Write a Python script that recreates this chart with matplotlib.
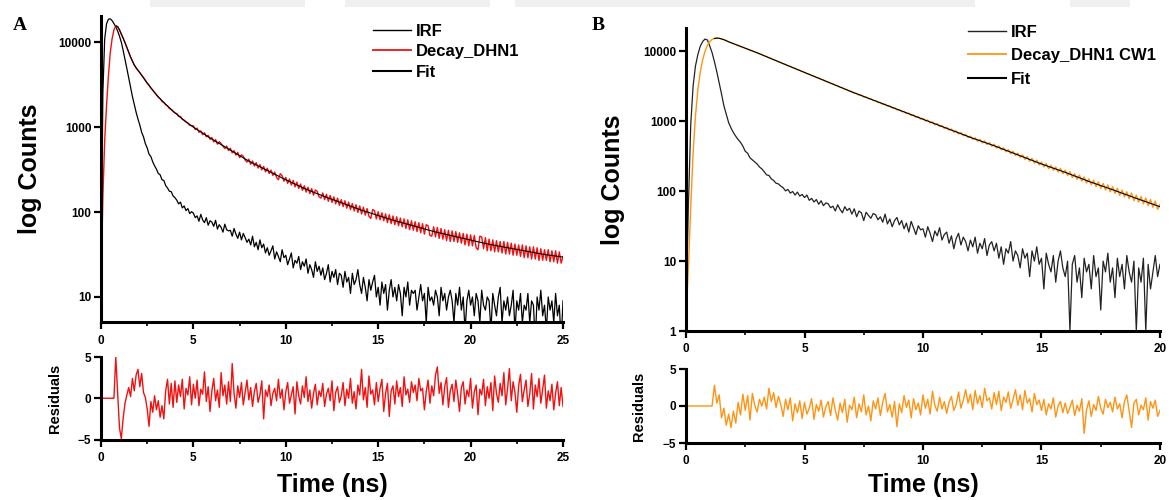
import numpy as np
import matplotlib
matplotlib.use("Agg")
import matplotlib.pyplot as plt
from matplotlib.patches import Rectangle
from matplotlib.ticker import FixedLocator, NullLocator, FixedFormatter

plt.rcParams["font.family"] = ["Liberation Sans", "DejaVu Sans"]
plt.rcParams["font.weight"] = "bold"

# ---------------- Panel A : DHN1 (0.1 ns channels, 0-25 ns) ----------------
CH_A = 0.1
irf_a = [
    15, 2500, 11000, 16500, 18700, 18900, 18000, 16600, 15200, 13600,
    11800, 10000, 8000, 6300, 4900, 3800, 2950, 2300, 1850, 1500,
    1250, 1060, 870, 770, 640, 570, 480, 450, 390, 350,
    320, 285, 275, 240, 236, 205, 192, 176, 174, 155,
    148, 138, 125, 131, 112, 118, 104, 110, 96, 101,
    97, 86, 90, 78, 94, 81, 75, 86, 70, 79,
    76, 68, 80, 63, 71, 66, 58, 72, 62, 60,
    61, 52, 64, 55, 49, 58, 47, 56, 50, 44,
    48, 41, 52, 39, 44, 36, 47, 38, 42, 33,
    38, 31, 35, 40, 28, 34, 30, 26, 36, 29,
    31, 24, 28, 33, 22, 27, 25, 30, 21, 26,
    23, 28, 19, 24, 21, 17, 26, 20, 23, 18,
    22, 16, 19, 24, 15, 20, 17, 21, 14, 19,
    18, 13, 20, 15, 17, 11, 19, 14, 16, 21,
    14, 11, 17, 13, 9, 16, 12, 15, 18, 10,
    13, 8, 15, 11, 14, 7, 12, 16, 10, 13,
    9, 14, 11, 6, 13, 10, 15, 8, 12, 11,
    12, 7, 10, 14, 9, 11, 5, 13, 9, 10,
    8, 12, 10, 6, 13, 9, 11, 7, 10, 12,
    9, 5, 11, 8, 13, 7, 10, 4, 9, 12,
    8, 10, 6, 11, 9, 5, 12, 8, 7, 10,
    9, 4, 11, 8, 6, 10, 13, 5, 9, 7,
    10, 6, 8, 12, 4, 9, 7, 11, 5, 8,
    7, 11, 5, 9, 8, 3, 10, 7, 12, 6,
    8, 4, 10, 7, 9, 5, 11, 6, 8, 3,
    9,
]
decay_a = [
    12, 150, 700, 1800, 4000, 7500, 11000, 14000, 15600, 15300,
    14000, 12500, 11200, 9900, 8700, 7600, 6700, 6000, 5400, 4950,
    4650, 4400, 4100, 3850, 3560, 3310, 3120, 2890, 2720, 2550,
    2420, 2250, 2160, 2010, 1950, 1840, 1780, 1660, 1610, 1530,
    1470, 1445, 1340, 1335, 1238, 1210, 1150, 1118, 1052, 1041,
    1040, 935, 975, 870, 905, 815, 860, 770, 800, 720,
    755, 670, 715, 630, 675, 640, 595, 560, 600, 530,
    565, 498, 530, 468, 505, 438, 472, 455, 410, 388,
    420, 365, 400, 348, 382, 330, 362, 314, 345, 298,
    328, 285, 312, 270, 296, 256, 240, 283, 268, 231,
    256, 218, 245, 208, 236, 198, 225, 190, 214, 180,
    204, 172, 196, 165, 189, 158, 182, 176, 151, 146,
    168, 140, 162, 134, 157, 130, 151, 125, 146, 120,
    140, 116, 136, 111, 131, 107, 126, 103, 122, 99,
    118, 95, 114, 92, 110, 89, 84, 107, 104, 83,
    101, 81, 98, 79, 95, 75, 93, 73, 90, 71,
    88, 69, 85, 67, 83, 64, 81, 62, 79, 61,
    77, 59, 75, 57, 73, 55, 71, 69, 53, 52,
    67, 51, 66, 49, 64, 48, 62, 46, 61, 45,
    60, 45, 59, 44, 57, 43, 56, 41, 55, 40,
    54, 40, 53, 38, 36, 52, 51, 37, 50, 35,
    48, 35, 47, 34, 46, 34, 45, 33, 45, 32,
    44, 32, 43, 31, 42, 31, 41, 30, 41, 29,
    40, 29, 39, 28, 39, 28, 38, 27, 37, 27,
    36, 27, 36, 26, 35, 26, 35, 25, 34, 25,
    30,
]
fit_a_t = [0.8, 0.9, 1.0, 1.1, 1.2, 1.4, 1.6, 1.8, 2.0, 2.5, 3.0, 3.5, 4.0,
           4.5, 5, 6, 7, 8, 9, 10, 11, 12, 13, 14, 15, 16, 17, 18, 19, 20,
           21, 22, 23, 24, 25]
fit_a = [15600, 15300, 14000, 12500, 11200, 8700, 6700, 5400, 4700, 3300,
         2400, 1860, 1480, 1200, 1000, 724, 537, 398, 309, 240, 190, 155,
         129, 107, 91, 78, 68, 59, 52.5, 46.8, 41.7, 38, 34.7, 31.6, 29.5]
resid_a = [
    0, 0, 0, 0, 0, 0, 0, 0, 5.0, 0.8,
    -3.6, -4.9, -2.4, -0.6, 0.4, 1.3, 0.2, 2.4, 0.9, 2.8,
    3.5, 1.4, 3.0, 0.7, 0.1, -1.3, -3.4, -0.4, -1.7, 0.3,
    -1.4, -0.3, -2.3, -0.9, -2.5, 0.9, 2.3, -0.7, 1.8, -1.1,
    2.1, -0.5, 1.6, 0.2, 2.3, -1.3, 1.2, 0.4, 2.6, -0.8,
    1.7, 0.0, 2.2, -0.9, 1.1, 0.5, 3.2, -0.4, 1.4, -1.6,
    0.9, 2.4, -0.3, 1.0, -1.1, 3.1, 0.3, 1.6, -0.7, 2.0,
    -0.4, 4.2, 0.6, -1.2, 1.5, 0.1, 1.9, -0.8, 0.7, 2.2,
    -0.2, 1.3, -1.0, 0.8, 1.8, -0.5, 0.4, 2.1, -2.5, 1.0,
    0.2, 1.6, -0.9, 0.6, 1.2, -0.3, 2.3, 0.0, 1.1, -1.4,
    0.8, 1.9, -0.6, 0.4, 1.4, -1.9, 2.0, 0.3, -0.7, 1.5,
    0.1, 2.6, -0.4, 1.0, -1.2, 0.6, 1.7, -0.8, 0.9, 0.2,
    1.8, -1.0, 0.5, 1.2, -0.3, 2.1, -1.5, 0.7, 1.4, -0.5,
    0.3, 1.9, -0.9, 1.1, 0.0, 2.4, -0.6, 0.8, -1.3, 1.6,
    0.4, 3.5, -0.2, 1.3, -1.1, 2.7, 0.5, 1.0, -0.8, 1.9,
    -0.4, 1.2, 2.3, -1.6, 0.6, 1.8, -2.2, 0.9, 1.5, -0.7,
    2.1, 0.2, 1.3, -1.0, 2.6, 0.4, 1.1, -0.5, 2.0, 0.7,
    1.6, -0.3, 2.4, 0.9, 1.2, -1.4, 0.8, 2.2, -0.6, 1.5,
    0.3, 2.8, 3.8, 0.6, 1.9, -0.8, 1.4, 2.5, -1.1, 0.9,
    1.7, -0.4, 2.2, 0.5, -1.6, 1.3, 2.0, -0.7, 1.0, 0.2,
    2.4, -1.2, 0.8, 1.6, -2.0, 1.1, 0.4, 2.3, -0.9, 1.4,
    0.0, 1.9, -1.5, 2.7, 0.6, -0.5, 1.8, 0.3, 3.1, -0.8,
    1.2, 3.6, -0.3, 2.0, 0.7, -1.7, 1.5, 2.9, -0.4, 1.0,
    2.2, -1.0, 0.5, 3.0, -1.3, 1.6, 0.2, 2.4, -0.6, 1.1,
    2.8, -1.2, 0.9, -0.3, 1.7, -1.4, 0.6, 2.0, -0.9, 1.3,
    -1.0,
]

# ---------------- Panel B : DHN1 CW1 (0.1 ns channels, 0-20 ns) ----------------
CH_B = 0.1
irf_b = [
    2, 60, 900, 3200, 6200, 9000, 11800, 13800, 15000, 14600,
    12000, 9600, 7100, 5100, 3550, 2450, 1660, 1260, 955, 800,
    690, 610, 548, 500, 440, 372, 350, 300, 280, 262,
    245, 222, 208, 190, 171, 168, 150, 142, 130, 127,
    118, 112, 101, 106, 94, 99, 88, 97, 85, 90,
    81, 88, 74, 79, 70, 76, 65, 73, 62, 68,
    66, 58, 61, 52, 64, 55, 49, 60, 53, 57,
    47, 56, 43, 52, 49, 38, 50, 45, 41, 48,
    46, 39, 43, 36, 47, 34, 40, 31, 38, 42,
    33, 38, 29, 35, 26, 37, 30, 24, 32, 28,
    29, 22, 31, 25, 19, 27, 23, 30, 20, 24,
    26, 18, 23, 15, 21, 25, 17, 22, 19, 14,
    20, 16, 22, 13, 18, 15, 21, 12, 17, 19,
    14, 18, 11, 16, 9, 15, 13, 19, 10, 14,
    12, 8, 15, 11, 13, 6, 14, 10, 16, 9,
    11, 4, 13, 9, 7, 12, 5, 10, 14, 8,
    6, 10, 1, 9, 12, 5, 8, 3, 11, 7,
    9, 4, 12, 6, 8, 2, 10, 7, 13, 5,
    8, 3, 11, 6, 9, 4, 12, 7, 5, 10,
    1, 8, 5, 11, 1, 9, 4, 7, 12, 6,
    9,
]
decay_b = [
    1.5, 8, 60, 350, 1200, 2800, 5000, 7500, 10000, 12200,
    13800, 14800, 15300, 15500, 15400, 15100, 14700, 14200, 13700, 13300,
    12950, 12480, 12190, 11750, 11480, 11060, 10800, 10420, 10170, 9810,
    9580, 9220, 8980, 8630, 8410, 8090, 7880, 7580, 7390, 7110,
    6930, 6650, 6500, 6240, 6090, 5850, 5720, 5480, 5360, 5140,
    5030, 4810, 4720, 4510, 4430, 4230, 4150, 3970, 3900, 3720,
    3660, 3490, 3430, 3270, 3220, 3060, 3020, 2870, 2830, 2690,
    2660, 2520, 2500, 2370, 2360, 2230, 2220, 2100, 2100, 1980,
    1980, 1860, 1860, 1750, 1760, 1650, 1660, 1550, 1560, 1460,
    1470, 1370, 1390, 1290, 1310, 1210, 1235, 1140, 1165, 1075,
    1100, 1010, 1040, 950, 980, 890, 925, 845, 870, 790,
    820, 745, 775, 700, 730, 660, 690, 620, 650, 585,
    612, 550, 580, 520, 552, 492, 523, 466, 495, 440,
    470, 415, 444, 390, 418, 366, 394, 344, 372, 323,
    350, 305, 330, 285, 312, 268, 294, 252, 278, 237,
    262, 223, 248, 210, 235, 199, 222, 188, 212, 178,
    200, 168, 190, 157, 178, 148, 170, 139, 160, 131,
    150, 124, 143, 116, 136, 110, 129, 104, 123, 98,
    116, 93, 110, 87, 104, 83, 98, 78, 94, 73,
    88, 70, 84, 66, 80, 62, 76, 59, 72, 55,
    65,
]
fit_b_t = [1.2, 1.3, 1.4, 1.6, 1.8, 2, 3, 4, 5, 6, 7, 8, 9, 10, 11, 12, 13,
           14, 15, 16, 17, 18, 19, 20]
fit_b = [15300, 15500, 15400, 14700, 13700, 12900, 9550, 6900, 5000, 3630,
         2630, 1950, 1445, 1070, 794, 589, 447, 331, 245, 186, 138, 105, 79,
         60]
resid_b = [
    0, 0, 0, 0, 0, 0, 0, 0, 0, 0,
    0, 0, 2.8, 0.4, 1.5, -1.6, -0.3, -2.6, -1.1, -2.9,
    -0.7, -2.3, 0.5, -1.2, 1.6, -0.6, 1.4, -1.9, 1.7, 0.1,
    -0.8, 0.9, 0.0, 1.2, -0.4, 2.4, 0.6, 1.8, -0.2, 1.3,
    0.2, -1.4, 0.9, -0.5, 1.1, -2.0, 0.3, -0.9, 0.7, -1.7,
    0.5, -1.1, -0.3, 1.0, -1.8, 0.2, -0.7, 0.8, -1.5, -0.1,
    0.6, -1.3, 1.1, -0.6, -1.9, 0.4, -0.9, 0.9, -2.2, 0.1,
    -0.5, 1.2, -1.6, 0.3, -0.8, 1.5, -1.2, 0.0, -2.0, 0.7,
    -0.4, 1.1, -1.3, 0.5, 1.7, -0.8, 0.2, -1.5, 0.6, -2.8,
    0.3, -0.9, 1.4, -0.2, 0.8, -1.6, 1.0, -0.5, 0.4, -1.2,
    1.5, -0.3, 0.9, -1.1, 2.0, 0.1, -0.7, 1.2, -0.4, 0.6,
    -1.0, 0.5, 1.3, -0.6, 0.2, 1.9, -0.3, 0.8, 2.2, 0.4,
    1.6, -0.5, 2.1, 0.3, 1.4, -0.2, 2.4, 0.7, 1.1, -0.4,
    1.8, 0.2, 2.0, -0.6, 1.2, 0.5, 1.9, -0.3, 0.9, 2.2,
    0.1, 1.5, -0.5, 2.1, 0.4, 1.0, -0.8, 1.7, 0.2, 0.8,
    -0.6, 0.9, -1.2, 0.3, -0.4, 1.1, -1.5, 0.0, 0.6, -0.9,
    0.4, -1.0, -0.2, 0.8, -1.3, 0.1, -0.7, 1.0, -3.7, -0.5,
    0.7, -1.4, 0.2, -0.6, 1.3, -0.3, -1.1, 0.9, -0.2, 0.5,
    -0.8, 1.2, -0.4, 0.3, -1.6, 0.6, 1.5, -0.7, -2.9, 0.4,
    0.9, -1.2, 0.1, -0.5, 1.1, -1.9, 0.6, -0.3, 0.8, -1.4,
    -0.6,
]

RED = "#f21111"
ORANGE = "#ff9414"
W, H = 1169, 500


def frac_box(left, top, right, bottom):
    """Axes rectangle from pixel edges."""
    return [left / W, 1 - bottom / H, (right - left) / W, (bottom - top) / H]


def style_axes(ax):
    for side in ("top", "right"):
        ax.spines[side].set_visible(False)
    for side in ("left", "bottom"):
        ax.spines[side].set_linewidth(2.2)
    ax.tick_params(which="major", direction="out", length=5, width=1.6,
                   labelsize=8.5, pad=2)
    ax.tick_params(which="minor", direction="out", length=3, width=1.2)
    for lab in ax.get_xticklabels() + ax.get_yticklabels():
        lab.set_fontweight("bold")


fig = plt.figure(figsize=(W / 100, H / 100), dpi=100)

# faint grey band along the top edge of the page
for x0, x1 in [(150, 305), (345, 490), (515, 975), (1070, 1130)]:
    fig.patches.append(Rectangle((x0 / W, 1 - 7 / H), (x1 - x0) / W, 7 / H,
                                 transform=fig.transFigure,
                                 facecolor="#f0f0f0", edgecolor="none",
                                 zorder=0))

panels = [
    dict(main=frac_box(101, 16, 563, 322), res=frac_box(101, 357, 563, 439.5),
         t_ch=CH_A, irf=irf_a, decay=decay_a, fit_t=fit_a_t, fit=fit_a,
         resid=resid_a, color=RED, xmax=25, ylim=(5.07, 20400),
         yticks=[10, 100, 1000, 10000], label="Decay_DHN1",
         irf_color="black", leg_xy=(373, 24), leg_space=0.32,
         letter="A", letter_xy=(20, 25), time_x=332),
    dict(main=frac_box(686, 28, 1160, 331), res=frac_box(686, 369, 1160, 443),
         t_ch=CH_B, irf=irf_b, decay=decay_b, fit_t=fit_b_t, fit=fit_b,
         resid=resid_b, color=ORANGE, xmax=20, ylim=(1, 21600),
         yticks=[1, 10, 100, 1000, 10000], label="Decay_DHN1 CW1",
         irf_color="#222222", leg_xy=(968, 25), leg_space=0.5,
         letter="B", letter_xy=(598, 25), time_x=923),
]

for p in panels:
    t = np.arange(len(p["irf"])) * p["t_ch"]
    ax = fig.add_axes(p["main"])
    h_irf, = ax.plot(t, p["irf"], color=p["irf_color"], lw=0.9, label="IRF")
    h_dec, = ax.plot(t, p["decay"], color=p["color"], lw=1.0,
                     label=p["label"])
    h_fit, = ax.plot(p["fit_t"], p["fit"], color="black", lw=0.8,
                     label="Fit")
    ax.set_yscale("log")
    ax.set_xlim(0, p["xmax"])
    ax.set_ylim(*p["ylim"])
    ax.yaxis.set_major_locator(FixedLocator(p["yticks"]))
    ax.yaxis.set_major_formatter(FixedFormatter([str(v) for v in p["yticks"]]))
    ax.yaxis.set_minor_locator(NullLocator())
    ax.set_xticks(np.arange(0, p["xmax"] + 1, 5))
    ax.set_xticks(np.arange(2.5, p["xmax"], 5), minor=True)
    style_axes(ax)
    ax.tick_params(axis="x", pad=4)
    ax.set_ylabel("log Counts", fontsize=18, fontweight="bold")
    ax.yaxis.set_label_coords(-0.128, 0.5)

    leg = fig.legend(handles=[h_irf, h_dec, h_fit], loc="upper left",
                     bbox_to_anchor=(p["leg_xy"][0] / W,
                                     1 - p["leg_xy"][1] / H),
                     frameon=False, borderpad=0, borderaxespad=0,
                     handlelength=2.3, handletextpad=0.3,
                     labelspacing=p["leg_space"],
                     prop=dict(size=12, weight="bold"))
    for line, lw in zip(leg.get_lines(), (1.0, 1.3, 1.5)):
        line.set_linewidth(lw)

    rax = fig.add_axes(p["res"])
    rax.plot(t, p["resid"], color=p["color"], lw=1.0)
    rax.set_xlim(0, p["xmax"])
    rax.set_ylim(-5, 5)
    rax.set_yticks([-5, 0, 5])
    rax.set_xticks(np.arange(0, p["xmax"] + 1, 5))
    rax.set_xticks(np.arange(2.5, p["xmax"], 5), minor=True)
    style_axes(rax)
    rax.tick_params(axis="x", pad=4)
    rax.set_ylabel("Residuals", fontsize=10.5, fontweight="bold")
    rax.yaxis.set_label_coords(-0.085, 0.5)

    fig.text(p["time_x"] / W, 1 - 485 / H, "Time (ns)", ha="center",
             va="center", fontsize=18, fontweight="bold")
    fig.text(p["letter_xy"][0] / W, 1 - p["letter_xy"][1] / H, p["letter"],
             ha="center", va="center", fontsize=14, fontweight="bold",
             family=["Liberation Serif", "DejaVu Serif"])

fig.savefig("out.png", dpi=100)
